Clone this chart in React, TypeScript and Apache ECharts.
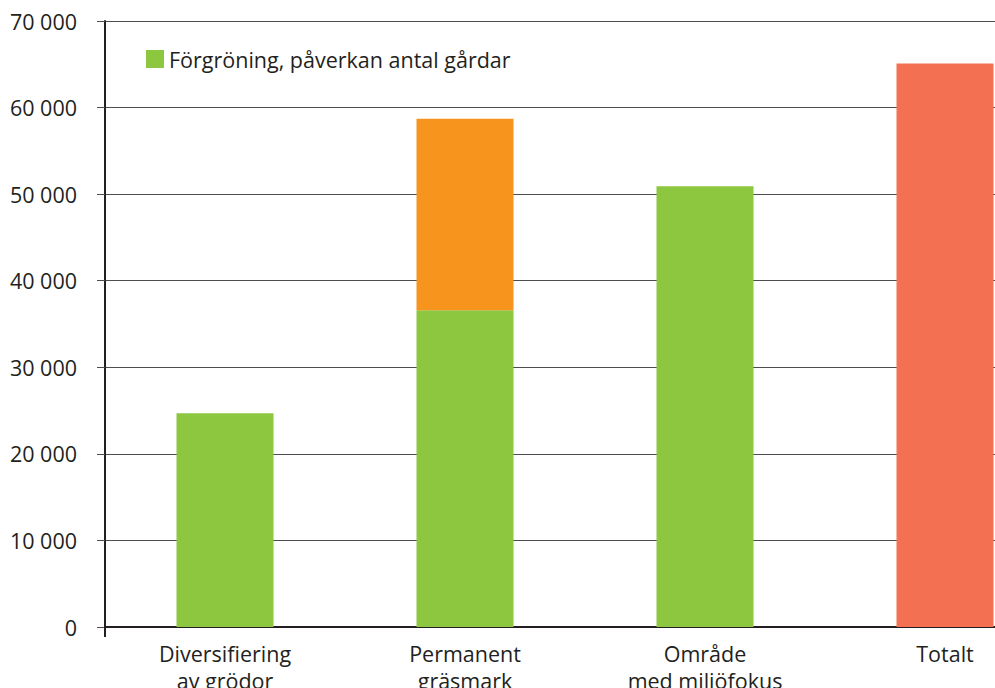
import React, { useEffect, useRef } from "react";
import * as echarts from "echarts";

const categories = ["Diversifiering\nav grödor", "Permanent\ngräsmark", "Område\nmed miljöfokus", "Totalt"];
const greenValues = [24700, 36600, 50900, null];
const orangeValues = [null, 22100, null, null];
const totalValues = [null, null, null, 65100];
const legendLabel = "Förgröning, påverkan antal gårdar";

const FONT = "'Open Sans', sans-serif";
const TEXT = "#231f20";
const FS = 21.5;

function fmt(v: number): string {
  return String(v).replace(/\B(?=(\d{3})+(?!\d))/g, " ");
}

export default function App() {
  const ref = useRef<HTMLDivElement>(null);

  useEffect(() => {
    if (!ref.current) return;
    const chart = echarts.init(ref.current, null, { renderer: "svg" });
    const barBase = { type: "bar" as const, stack: "total", barWidth: 97 };
    chart.setOption({
      animation: false,
      textStyle: { fontFamily: FONT, color: TEXT },
      grid: {
        left: 105,
        right: 0,
        top: 21,
        bottom: 61,
        containLabel: false,
        outerBoundsMode: "none",
      },
      legend: {
        data: [legendLabel],
        left: 146,
        top: 48,
        padding: 0,
        itemWidth: 18,
        itemHeight: 18,
        itemGap: 10,
        icon: "rect",
        textStyle: { fontFamily: FONT, fontSize: FS, color: TEXT },
      },
      xAxis: {
        type: "category",
        data: categories,
        axisLine: { show: true, lineStyle: { color: TEXT, width: 2 } },
        axisTick: {
          show: true,
          length: 10,
          interval: (i: number) => i === 0,
          lineStyle: { color: TEXT, width: 2 },
        },
        axisLabel: {
          fontFamily: FONT,
          fontSize: FS,
          color: TEXT,
          lineHeight: 27,
          margin: 13,
          interval: 0,
        },
      },
      yAxis: {
        type: "value",
        min: 0,
        max: 70000,
        interval: 10000,
        axisLine: { show: true, lineStyle: { color: TEXT, width: 2 } },
        axisTick: { show: true, length: 8, lineStyle: { color: "#4d4d4d", width: 1 } },
        splitLine: { show: true, lineStyle: { color: "#4d4d4d", width: 1 } },
        axisLabel: {
          fontFamily: FONT,
          fontSize: FS,
          color: TEXT,
          margin: 28,
          formatter: (v: number) => fmt(v),
        },
      },
      series: [
        { ...barBase, name: legendLabel, data: greenValues, itemStyle: { color: "#8dc63f" } },
        { ...barBase, name: "Permanent gräsmark, övrigt", data: orangeValues, itemStyle: { color: "#f7941e" } },
        { ...barBase, name: "Totalt", data: totalValues, itemStyle: { color: "#f37053" } },
      ],
    });
    return () => chart.dispose();
  }, []);

  return (
    <div style={{ position: "fixed", left: 0, top: 0, width: 995, height: 688, overflow: "hidden", background: "#fff" }}>
      <div ref={ref} style={{ width: 1065, height: 688 }} />
    </div>
  );
}
